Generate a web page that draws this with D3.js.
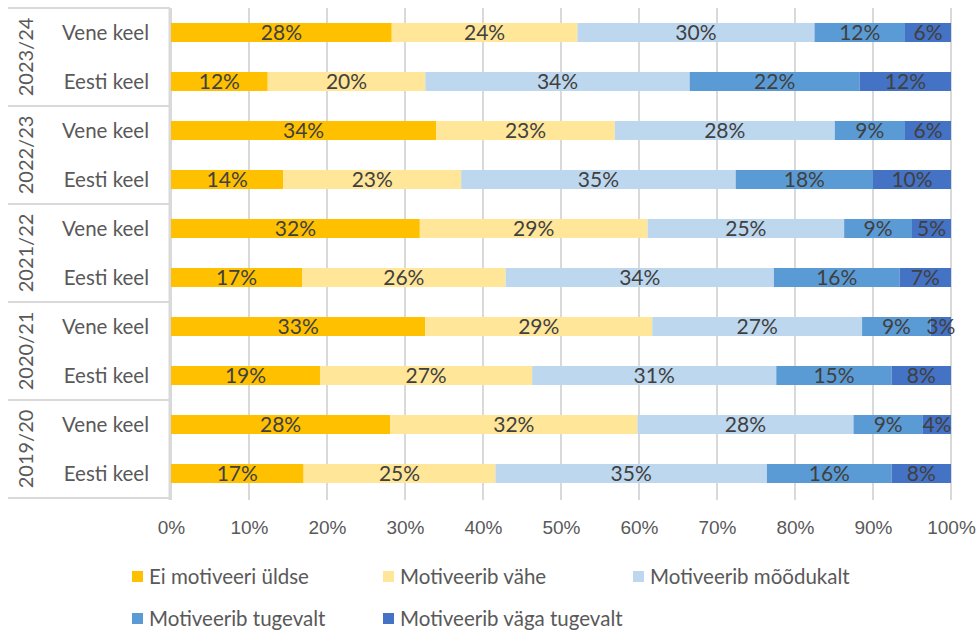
<!DOCTYPE html>
<html>
<head>
<meta charset="utf-8">
<script src="https://cdn.jsdelivr.net/npm/d3@7"></script>
<style>
  html, body { margin: 0; padding: 0; background: #fff; }
  svg { display: block; font-family: Lato, "Open Sans", sans-serif; }
</style>
</head>
<body>
<svg id="chart" width="978" height="630"></svg>
<script>
// ---- Data (top row to bottom row) ----
const years = ["2023/24", "2022/23", "2021/22", "2020/21", "2019/20"];
const languages = ["Vene keel", "Eesti keel"];
const seriesNames = ["Ei motiveeri üldse", "Motiveerib vähe", "Motiveerib mõõdukalt", "Motiveerib tugevalt", "Motiveerib väga tugevalt"];
const eiMotiveeri      = [28.3, 12.4, 34.0, 14.4, 31.9, 16.8, 32.6, 19.1, 28.1, 17.0];
const motVahe          = [23.8, 20.2, 22.9, 22.8, 29.2, 26.1, 29.1, 27.2, 31.7, 24.6];
const motMoodukalt     = [30.4, 33.9, 28.2, 35.2, 25.2, 34.4, 26.9, 31.3, 27.7, 34.8];
const motTugevalt      = [11.6, 21.8,  9.0, 17.6,  8.7, 16.1,  8.8, 14.8,  8.9, 16.0];
const motVagaTugevalt  = [ 5.9, 11.7,  5.9, 10.0,  5.0,  6.6,  2.6,  7.6,  3.6,  7.6];
const xTicks = [0, 10, 20, 30, 40, 50, 60, 70, 80, 90, 100];
const colors = ["#FFC000", "#FFE699", "#BDD7EE", "#5B9BD5", "#4472C4"];

const seriesValues = [eiMotiveeri, motVahe, motMoodukalt, motTugevalt, motVagaTugevalt];
const rows = [];
years.forEach((y, yi) => languages.forEach((l, li) => rows.push({ id: yi * 2 + li, year: y, lang: l })));
const table = rows.map((r, i) => {
  const o = { id: r.id };
  seriesNames.forEach((s, si) => o[s] = seriesValues[si][i]);
  return o;
});
const stacked = d3.stack().keys(seriesNames)(table);

// ---- Layout ----
const svg = d3.select("#chart");
const plotLeft = 171, plotRight = 951, plotTop = 8, plotBottom = 498;
const x = d3.scaleLinear().domain([0, 100]).range([plotLeft, plotRight]);
const y = d3.scaleBand().domain(rows.map(r => r.id)).range([plotTop, plotBottom])
  .paddingInner(0.612).paddingOuter(0.306);
const color = d3.scaleOrdinal().domain(seriesNames).range(colors);

// gridlines
svg.append("g").selectAll("line").data(xTicks).join("line")
  .attr("x1", d => x(d)).attr("x2", d => x(d))
  .attr("y1", plotTop).attr("y2", plotBottom + 2)
  .attr("stroke", "#D9D9D9").attr("stroke-width", 2);

// left multi-level axis lines
const groupEdges = d3.range(years.length + 1).map(i => plotTop + i * (plotBottom - plotTop) / years.length);
svg.append("g").selectAll("line").data(groupEdges).join("line")
  .attr("x1", 8).attr("x2", plotLeft - 1)
  .attr("y1", d => d).attr("y2", d => d)
  .attr("stroke", "#D9D9D9").attr("stroke-width", 2);
svg.append("line").attr("x1", plotLeft - 1.5).attr("x2", plotLeft - 1.5)
  .attr("y1", plotTop).attr("y2", plotBottom + 2)
  .attr("stroke", "#D9D9D9").attr("stroke-width", 2);

// bars
const layers = svg.append("g").selectAll("g").data(stacked).join("g")
  .attr("fill", d => color(d.key));
layers.selectAll("rect").data(d => d).join("rect")
  .attr("x", d => x(d[0]))
  .attr("width", d => x(d[1]) - x(d[0]))
  .attr("y", d => y(d.data.id))
  .attr("height", y.bandwidth());

// data labels
const labels = svg.append("g").attr("font-size", 21).attr("fill", "#404040").attr("text-anchor", "middle");
stacked.forEach(layer => {
  labels.selectAll(null).data(layer).join("text")
    .attr("x", d => (x(d[0]) + x(d[1])) / 2)
    .attr("y", d => y(d.data.id) + y.bandwidth() / 2)
    .attr("dy", "0.36em")
    .text(d => Math.round(d[1] - d[0]) + "%");
});

// category labels
svg.append("g").attr("font-size", 20.5).attr("fill", "#595959").attr("text-anchor", "end")
  .selectAll("text").data(rows).join("text")
  .attr("x", 149)
  .attr("y", d => y(d.id) + y.bandwidth() / 2)
  .attr("dy", "0.36em")
  .text(d => d.lang);

// year labels (rotated)
svg.append("g").attr("font-size", 20).attr("fill", "#595959").attr("text-anchor", "middle")
  .selectAll("text").data(years).join("text")
  .attr("transform", (d, i) => `translate(26,${(groupEdges[i] + groupEdges[i + 1]) / 2}) rotate(-90)`)
  .attr("dy", "0.36em")
  .text(d => d);

// x axis
const xAxis = d3.axisBottom(x).tickValues(xTicks).tickFormat(d => d + "%").tickSize(0).tickPadding(0);
const gx = svg.append("g").attr("transform", `translate(0,${plotBottom})`).call(xAxis);
gx.select(".domain").remove();
gx.selectAll("text").attr("font-size", 19).attr("fill", "#595959")
  .attr("font-family", null).attr("dy", null).attr("y", 36);

// legend
const legendPos = [[132, 571], [383, 571], [633, 571], [132, 613], [383, 613]];
const legend = svg.append("g").selectAll("g").data(seriesNames).join("g")
  .attr("transform", (d, i) => `translate(${legendPos[i][0]},${legendPos[i][1]})`);
legend.append("rect").attr("width", 11).attr("height", 11).attr("fill", d => color(d));
legend.append("text").attr("x", 17).attr("y", 5.5).attr("dy", "0.36em")
  .attr("font-size", 20.5).attr("fill", "#595959").text(d => d);
</script>
</body>
</html>
